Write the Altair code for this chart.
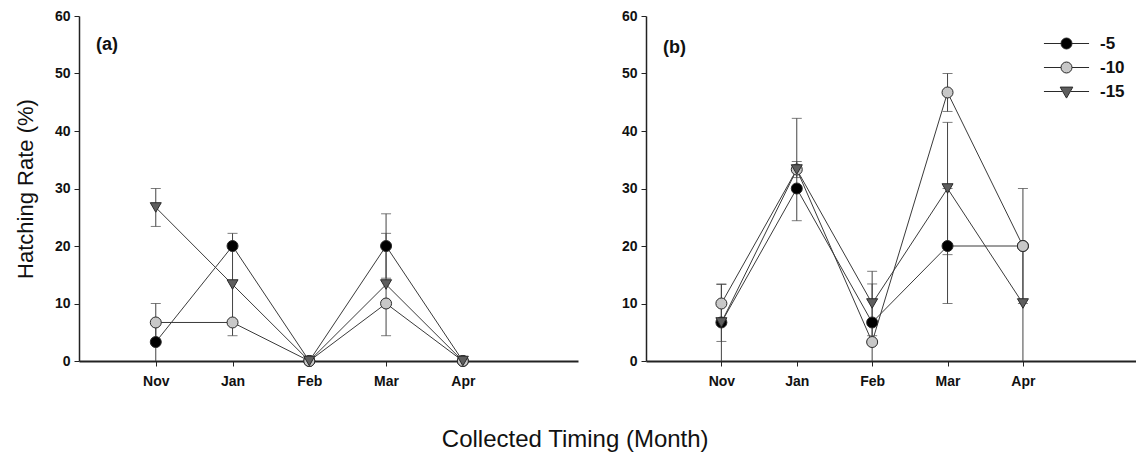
import json
import altair as alt
import pandas as pd

months = ["Nov", "Jan", "Feb", "Mar", "Apr"]
series = ["-5", "-10", "-15"]

# Panel (a)
a_m5 = [3.3, 20.0, 0.0, 20.0, 0.0]
a_m5_se = [3.3, 0.0, 0.0, 5.6, 0.0]
a_m10 = [6.7, 6.7, 0.0, 10.0, 0.0]
a_m10_se = [3.3, 0.0, 0.0, 0.0, 0.0]
a_m15 = [26.7, 13.3, 0.0, 13.3, 0.0]
a_m15_se = [3.3, 8.9, 0.0, 8.9, 0.0]

# Panel (b)
b_m5 = [6.7, 30.0, 6.7, 20.0, 20.0]
b_m5_se = [3.3, 0.0, 6.7, 10.0, 0.0]
b_m10 = [10.0, 33.3, 3.3, 46.7, 20.0]
b_m10_se = [3.3, 1.4, 0.0, 3.3, 10.0]
b_m15 = [6.7, 33.3, 10.0, 30.0, 10.0]
b_m15_se = [6.7, 8.9, 5.6, 11.5, 10.0]

FONT = "Liberation Sans"
fills = ["#000000", "#c8c8c8", "#5e5e5e"]
legend_shapes = [
    "M-4.1,0H-1M1,0H4.1M1,0A1,1 0 1,1 -1,0A1,1 0 1,1 1,0Z",
    "M-4.1,0H-1M1,0H4.1M1,0A1,1 0 1,1 -1,0A1,1 0 1,1 1,0Z",
    "M-4.1,0H-0.75M0.75,0H4.1M-1.15,-0.8L1.15,-0.8L0,1.2Z",
]


def make_df(groups):
    rows = []
    for s, (means, ses) in zip(series, groups):
        for i, (m, e) in enumerate(zip(means, ses)):
            rows.append({"series": s, "idx": i, "month": months[i], "mean": m,
                         "lo": max(0.0, m - e), "hi": m + e, "err": e})
    return pd.DataFrame(rows)


df_a = make_df([(a_m5, a_m5_se), (a_m10, a_m10_se), (a_m15, a_m15_se)])
df_b = make_df([(b_m5, b_m5_se), (b_m10, b_m10_se), (b_m15, b_m15_se)])

label_expr = json.dumps(months) + "[datum.value]"

x_axis = alt.Axis(values=[0, 1, 2, 3, 4], labelExpr=label_expr, title=None,
                  grid=False, tickSize=5, labelPadding=8, domainWidth=2,
                  labelFontSize=14, labelFontWeight="bold", labelFont=FONT,
                  labelColor="#111", domainColor="#222", tickColor="#222")


def y_axis(title):
    kw = dict(values=[0, 10, 20, 30, 40, 50, 60], grid=False,
              tickSize=5, labelPadding=4, domainWidth=1.5,
              labelFontSize=14, labelFontWeight="bold", labelFont=FONT,
              labelColor="#111", domainColor="#222", tickColor="#222")
    if title:
        kw.update(title=title, titleFont=FONT, titleFontSize=22, titleFontWeight="normal",
                  titleColor="#111", titlePadding=17)
    else:
        kw.update(title=None)
    return alt.Axis(**kw)


def X():
    return alt.X("idx:Q", scale=alt.Scale(domain=[-1, 5.5], nice=False, zero=False), axis=x_axis)


def Y(field, title):
    return alt.Y(f"{field}:Q", scale=alt.Scale(domain=[0, 60], nice=False), axis=y_axis(title))


fill_scale = alt.Scale(domain=series, range=fills)
shape_cond = alt.condition("datum.series == '-15'", alt.value("triangle-down"), alt.value("circle"))

leg_kw = dict(title=None, orient="none", legendX=412, legendY=19,
              symbolSize=121, symbolOpacity=1, symbolStrokeWidth=1,
              labelFontSize=17, labelFontWeight="bold", labelFont=FONT, labelColor="#111",
              labelOffset=25, rowPadding=6)


def panel(df, tag, tag_y, y_title, with_legend):
    base = alt.Chart(df)
    lines = base.mark_line(color="#3a3a3a", strokeWidth=1).encode(
        x=X(), y=Y("mean", y_title), detail="series:N", order="idx:Q")
    errs = df[df["err"] > 0]
    eb = alt.Chart(errs)
    rules = eb.mark_rule(color="#444444", strokeWidth=1).encode(
        x=X(), y=Y("lo", y_title), y2="hi:Q")
    cap_hi = eb.mark_tick(orient="horizontal", size=10, thickness=1, color="#444444").encode(
        x=X(), y=Y("hi", y_title))
    cap_lo = eb.transform_filter("datum.lo > 0").mark_tick(
        orient="horizontal", size=10, thickness=1, color="#444444").encode(
        x=X(), y=Y("lo", y_title))
    pts = base.mark_point(filled=True, size=121, stroke="#2a2a2a", strokeWidth=1, opacity=1).encode(
        x=X(), y=Y("mean", y_title),
        shape=shape_cond,
        fill=alt.Fill("series:N", scale=fill_scale, legend=None),
    )
    txt = alt.Chart(pd.DataFrame({"t": [tag]})).mark_text(
        align="left", baseline="middle", fontSize=18, fontWeight="bold", font=FONT, color="#111"
    ).encode(text="t:N", x=alt.value(17), y=alt.value(tag_y))
    layers = [lines, rules, cap_hi, cap_lo, pts, txt]
    if with_legend:
        leg = base.mark_point(filled=True, size=121, strokeWidth=1, opacity=0).encode(
            x=X(), y=Y("mean", y_title),
            shape=alt.Shape("series:N", scale=alt.Scale(domain=series, range=legend_shapes),
                            legend=alt.Legend(**leg_kw)),
            fill=alt.Fill("series:N", scale=fill_scale, legend=alt.Legend(**leg_kw)),
            stroke=alt.Stroke("series:N", scale=alt.Scale(domain=series, range=["#2a2a2a"] * 3),
                              legend=alt.Legend(**leg_kw)),
        )
        layers = [leg] + layers
    return alt.layer(*layers)


pa = panel(df_a, "(a)", 29, "Hatching Rate (%)", False).properties(width=499, height=345)
pb = panel(df_b, "(b)", 32, None, True).properties(width=490, height=345)

chart = alt.hconcat(pa, pb, spacing=43).resolve_legend(
    fill="independent", shape="independent", stroke="independent"
).properties(
    title=alt.TitleParams("Collected Timing (Month)", orient="bottom", anchor="middle",
                          fontSize=24, fontWeight="normal", font=FONT, color="#111", offset=40),
    padding={"left": 14, "top": 9, "right": 0, "bottom": 0},
).configure_view(stroke=None)

chart.save("out.html", embed_options={"renderer": "svg", "actions": False})
